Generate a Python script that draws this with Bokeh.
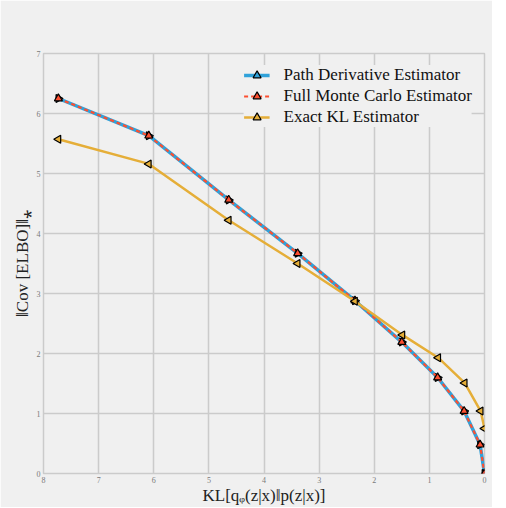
from bokeh.plotting import figure
from bokeh.models import Range1d, Legend, LegendItem, FixedTicker
from bokeh.embed import file_html
from bokeh.resources import INLINE

# data
kl_path = [7.73, 6.09, 4.64, 3.39, 2.35, 1.50, 0.85, 0.37, 0.08, 0.0]
cov_path = [6.25, 5.63, 4.56, 3.67, 2.88, 2.19, 1.60, 1.04, 0.48, 0.0]
kl_mc = [7.73, 6.09, 4.64, 3.39, 2.35, 1.50, 0.85, 0.37, 0.08, 0.0]
cov_mc = [6.25, 5.63, 4.56, 3.67, 2.88, 2.19, 1.60, 1.04, 0.48, 0.0]
kl_exact = [7.73, 6.09, 4.64, 3.39, 2.35, 1.49, 0.84, 0.36, 0.07, 0.0]
cov_exact = [5.57, 5.16, 4.22, 3.50, 2.87, 2.31, 1.93, 1.51, 1.04, 0.75]
x_ticks = [0, 1, 2, 3, 4, 5, 6, 7, 8]
y_ticks = [0, 1, 2, 3, 4, 5, 6, 7]

BG = "#f0f0f0"
GRID = "#cbcbcb"
SERIF = "Liberation Serif"

p = figure(frame_width=441, frame_height=420, output_backend="svg", toolbar_location=None,
           x_range=Range1d(8, 0), y_range=Range1d(0, 7),
           min_border_left=43, min_border_right=8, min_border_top=53, min_border_bottom=20)
p.background_fill_color = BG
p.border_fill_color = BG
p.outline_line_color = GRID
p.outline_line_width = 1.5

p.xaxis.ticker = FixedTicker(ticks=x_ticks)
p.yaxis.ticker = FixedTicker(ticks=y_ticks)
for ax in (p.xaxis[0], p.yaxis[0]):
    ax.axis_line_color = None
    ax.major_tick_line_color = None
    ax.minor_tick_line_color = None
    ax.major_tick_out = 0
    ax.major_tick_in = 0
    ax.minor_tick_out = 0
    ax.minor_tick_in = 0
    ax.major_label_text_font = SERIF
    ax.major_label_text_font_size = "8px"
    ax.major_label_text_color = "#7a7a7a"
    ax.major_label_standoff = 3
    ax.axis_label_text_font = SERIF
    ax.axis_label_text_font_style = "normal"
    ax.axis_label_text_font_size = "17px"
    ax.axis_label_text_color = "#222222"
    ax.axis_label_standoff = 0

p.yaxis[0].axis_label_standoff = 2
p.xaxis.axis_label = "KL[qᵩ(z|x)‖p(z|x)]"
p.yaxis.axis_label = "‖Cov [ELBO]‖⁎"

p.xgrid.grid_line_color = GRID
p.ygrid.grid_line_color = GRID
p.xgrid.grid_line_width = 1.5
p.ygrid.grid_line_width = 1.5

blue = "#30a2da"
red = "#fc4f30"
orange = "#e5ae38"

l1 = p.line(kl_path, cov_path, line_color=blue, line_width=3.5)
m1 = p.scatter(kl_path, cov_path, marker="triangle", angle=-1.5708, size=8,
               fill_color=blue, line_color="black", line_width=1.2)
l2 = p.line(kl_mc, cov_mc, line_color=red, line_width=2.2, line_dash="4 3")
m2 = p.scatter(kl_mc, cov_mc, marker="triangle", size=8,
               fill_color=red, line_color="black", line_width=1.2)
l3 = p.line(kl_exact, cov_exact, line_color=orange, line_width=2.5)
m3 = p.scatter(kl_exact, cov_exact, marker="triangle", angle=1.5708, size=8,
               fill_color=orange, line_color="black", line_width=1.2)

legend = Legend(items=[
    LegendItem(label="Path Derivative Estimator", renderers=[l1, m1]),
    LegendItem(label="Full Monte Carlo Estimator", renderers=[l2, m2]),
    LegendItem(label="Exact KL Estimator", renderers=[l3, m3]),
], location="top_right")
legend.background_fill_color = BG
legend.background_fill_alpha = 1.0
legend.border_line_color = None
legend.label_text_font = SERIF
legend.label_text_font_size = "17px"
legend.label_text_color = "#111111"
legend.glyph_width = 26
legend.label_standoff = 14
legend.spacing = 1
legend.label_height = 20
legend.glyph_height = 20
legend.padding = 6
legend.margin = 12
p.add_layout(legend)

open("out.html", "w").write(file_html(p, INLINE))
